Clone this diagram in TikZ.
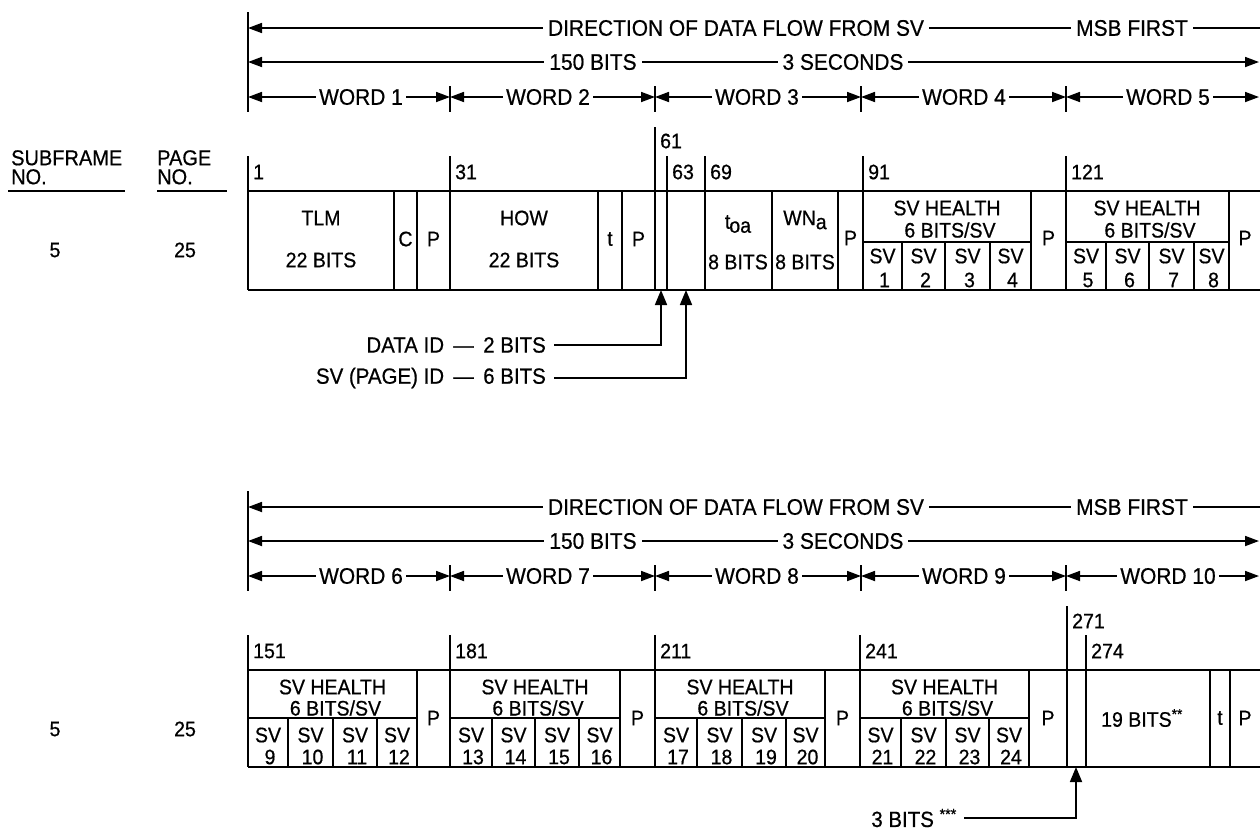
\documentclass[tikz,border=0pt]{standalone}
\usepackage{fontspec}
\setmainfont{Liberation Sans}[FakeStretch=0.93,FakeBold=0.6]
\usetikzlibrary{arrows.meta}
\begin{document}
\begin{tikzpicture}[x=1pt,y=-1pt,
  ln/.style={line width=1.7pt},
  rtip/.style={-{Triangle[length=14pt,width=10pt]}},
  btip/.style={{Triangle[length=14pt,width=10pt]}-{Triangle[length=14pt,width=10pt]}},
  utip/.style={-{Triangle[length=15pt,width=12pt]}},
  atext/.style={font=\fontsize{22.5}{22}\selectfont, fill=white, inner xsep=5pt, inner ysep=1pt},
  wtext/.style={atext, inner xsep=3pt},
  btext/.style={font=\fontsize{21}{21}\selectfont, inner sep=0pt},
  lbl/.style={btext, anchor=west},
  head/.style={font=\fontsize{21.5}{19}\selectfont, inner sep=0pt, anchor=north west, align=left},
]
\useasboundingbox (0,0) rectangle (1260,831);

% ---------- arrow rows (both sections) ----------
\foreach \oy/\wwa/\wwb/\wwc/\wwd/\wwe in {0/1/2/3/4/5, 479/6/7/8/9/10}{
\begin{scope}[yshift=-\oy pt]
  \draw[ln] (248,12) -- (248,112);
  \draw[ln,rtip] (1262,28) -- (248,28);
  \node[atext] (dir\oy) at (736,28) {DIRECTION OF DATA FLOW FROM SV};
  \node[atext] (msb\oy) at (1132,28) {MSB FIRST};
  \draw[ln,btip] (248,62) -- (1259,62);
  \node[atext] (bits\oy) at (593,62) {150 BITS};
  \node[atext] (sec\oy) at (843,62) {3 SECONDS};
  \foreach \x in {450,655,861,1066} \draw[ln] (\x,86) -- (\x,112);
  \draw[ln,btip] (248,97) -- (450,97);
  \draw[ln,btip] (450,97) -- (655,97);
  \draw[ln,btip] (655,97) -- (861,97);
  \draw[ln,btip] (861,97) -- (1066,97);
  \draw[ln,btip] (1066,97) -- (1259,97);
  \node[wtext] (w\wwa) at (361,97) {WORD \wwa};
  \node[wtext] (w\wwb) at (548,97) {WORD \wwb};
  \node[wtext] (w\wwc) at (757,97) {WORD \wwc};
  \node[wtext] (w\wwd) at (964,97) {WORD \wwd};
  \node[wtext] (w\wwe) at (1168,97) {WORD \wwe};
\end{scope}}

% ---------- left headings ----------
\node[head] (sf) at (11,150) {SUBFRAME\\NO.};
\node[head] (pg) at (157,150) {PAGE\\NO.};
\draw[ln] (8,191) -- (125,191);
\draw[ln] (157,191) -- (227,191);
\node[btext] (sf1) at (55,250) {5};
\node[btext] (pg1) at (185,250) {25};
\node[btext] (sf2) at (55,729) {5};
\node[btext] (pg2) at (185,729) {25};

% ---------- row 1 frame ----------
\draw[ln] (248,191) -- (1262,191);
\draw[ln] (248,290) -- (1262,290);
\foreach \x in {248,450,667,705,863,1066} \draw[ln] (\x,156) -- (\x,290);
\draw[ln] (655,127) -- (655,290);
\foreach \x in {394,417,598,622,772,838,1031,1229} \draw[ln] (\x,191) -- (\x,290);
\draw[ln] (863,242) -- (1031,242);
\draw[ln] (1066,242) -- (1229,242);
\foreach \x in {902,945,990,1106,1149,1194} \draw[ln] (\x,242) -- (\x,290);

% row 1 bit numbers
\node[lbl] (n1) at (253,172) {1};
\node[lbl] (n31) at (455,172) {31};
\node[lbl] (n61) at (660,141) {61};
\node[lbl] (n63) at (672,172) {63};
\node[lbl] (n69) at (710,172) {69};
\node[lbl] (n91) at (868,172) {91};
\node[lbl] (n121) at (1071,172) {121};

% row 1 contents
\node[btext] (tlm) at (321,218) {TLM};
\node[btext] (tlmb) at (321,260) {22 BITS};
\node[btext] (c) at (405.5,239) {C};
\node[btext] (p1) at (433.5,239) {P};
\node[btext] (how) at (524,218) {HOW};
\node[btext] (howb) at (524,260) {22 BITS};
\node[btext] (t1) at (610,239) {t};
\node[btext] (p2) at (638.5,239) {P};
\node[btext] (toa) at (738,224) {t\kern-1pt\raisebox{-4pt}{oa}};
\node[btext] (toab) at (738,262) {8 BITS};
\node[btext] (wna) at (805,220) {WN\raisebox{-4pt}{a}};
\node[btext] (wnab) at (805,262) {8 BITS};
\node[btext] (p3) at (850.5,238) {P};
\node[btext] (h4) at (947,208) {SV HEALTH};
\node[btext] (h4b) at (950,230) {6 BITS/SV};
\node[btext] (p4) at (1048.5,238) {P};
\node[btext] (h5) at (1147,208) {SV HEALTH};
\node[btext] (h5b) at (1150,230) {6 BITS/SV};
\node[btext] (p5) at (1245,238) {P};
\foreach \a/\b/\n in {863/902/1,902/945/2,945/990/3,990/1031/4,1066/1106/5,1106/1149/6,1149/1194/7,1194/1229/8}{
  \node[btext] at ({(\a+\b)/2},256) {SV};
  \node[btext] at ({(\a+\b)/2+2},280) {\n};
}

% row 1 annotations
\node[btext, anchor=east, font=\fontsize{22}{22}\selectfont] (did) at (546,345) {DATA ID\, —\, 2 BITS};
\node[btext, anchor=east, font=\fontsize{22}{22}\selectfont] (svid) at (546,378) {SV (PAGE) ID\, —\, 6 BITS};
\coordinate (a1) at (661,290);
\coordinate (a2) at (686,290);
\draw[ln,utip] ([xshift=8pt]did.east) -| (a1);
\draw[ln,utip] ([xshift=8pt]svid.east) -| (a2);

% ---------- row 2 frame ----------
\draw[ln] (248,670) -- (1262,670);
\draw[ln] (248,767) -- (1262,767);
\foreach \x in {248,450,655,860,1086} \draw[ln] (\x,635) -- (\x,767);
\draw[ln] (1067,606) -- (1067,767);
\foreach \x in {417,620,825,1029,1210,1230} \draw[ln] (\x,670) -- (\x,767);
\draw[ln] (248,718) -- (417,718);
\draw[ln] (450,718) -- (620,718);
\draw[ln] (655,718) -- (825,718);
\draw[ln] (860,718) -- (1029,718);
\foreach \x in {288,333,377,492,535,579,697,742,786,901,946,989} \draw[ln] (\x,718) -- (\x,767);

% row 2 bit numbers
\node[lbl] (n151) at (253,651) {151};
\node[lbl] (n181) at (455,651) {181};
\node[lbl] (n211) at (660,651) {211};
\node[lbl] (n241) at (865,651) {241};
\node[lbl] (n271) at (1072,621) {271};
\node[lbl] (n274) at (1091,651) {274};

% row 2 contents
\foreach \a/\b/\k in {248/417/6,450/620/7,655/825/8,860/1029/9}{
  \node[btext] (hh\k) at ({(\a+\b)/2},687) {SV HEALTH};
  \node[btext] (hb\k) at ({(\a+\b)/2+3},708) {6 BITS/SV};
}
\node[btext] (q6) at (433.5,718) {P};
\node[btext] (q7) at (637.5,718) {P};
\node[btext] (q8) at (842.5,718) {P};
\node[btext] (q9) at (1048,718) {P};
\node[btext] (b19) at (1142,718) {19 BITS\textsuperscript{**}};
\node[btext] (t10) at (1220,718) {t};
\node[btext] (q10) at (1245,718) {P};
\foreach \a/\b/\n in {248/288/9,288/333/10,333/377/11,377/417/12,450/492/13,492/535/14,535/579/15,579/620/16,655/697/17,697/742/18,742/786/19,786/825/20,860/901/21,901/946/22,946/989/23,989/1029/24}{
  \node[btext] at ({(\a+\b)/2},735) {SV};
  \node[btext] at ({(\a+\b)/2+2},757) {\n};
}

% row 2 annotation
\node[btext, anchor=east, font=\fontsize{22}{22}\selectfont] (three) at (957,818) {3 BITS \textsuperscript{***}};
\coordinate (a3) at (1076,767);
\draw[ln,utip] ([xshift=7pt]three.east) -| (a3);
\end{tikzpicture}
\end{document}
